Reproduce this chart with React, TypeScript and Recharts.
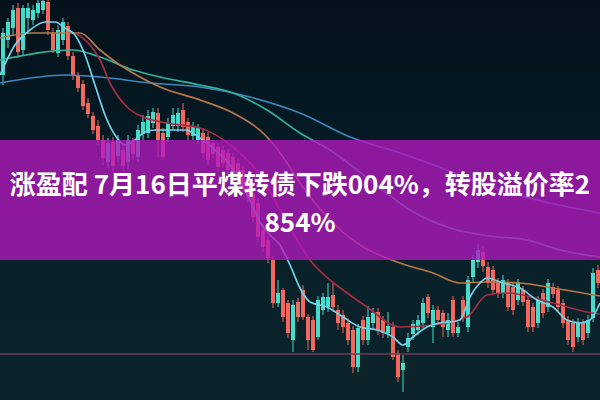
import React from "react";
import { ComposedChart, Bar, Line, XAxis, YAxis, ReferenceLine } from "recharts";

// candle values (arbitrary price units)
const opens = [
  325, 360, 372, 392, 350, 382, 380, 387, 390, 398, 367, 347, 360, 374, 344, 324, 316, 297, 284, 274,
  260, 238, 258, 244, 250, 238, 258, 243, 266, 267, 277, 287, 267, 263, 274, 274, 290, 278, 264, 260,
  267, 263, 257, 253, 250, 247, 243, 237, 230, 220, 207, 197, 170, 160, 140, 97, 110, 97, 60, 98,
  110, 83, 80, 63, 90, 93, 105, 90, 85, 77, 70, 33, 80, 60, 77, 88, 80, 67, 73, 47,
  30, 53, 66, 70, 77, 103, 73, 90, 87, 70, 100, 67, 100, 73, 123, 138, 148, 133, 130, 117,
  107, 117, 113, 100, 110, 100, 93, 77, 107, 93, 113, 110, 97, 80, 77, 63, 77, 67, 82, 130,
];
const closes = [
  367, 378, 390, 348, 392, 392, 390, 397, 399, 370, 350, 370, 378, 344, 324, 312, 294, 286, 270, 260,
  242, 257, 234, 260, 234, 260, 246, 270, 278, 284, 288, 260, 243, 277, 285, 287, 273, 265, 274, 272,
  247, 240, 246, 233, 237, 230, 223, 220, 213, 203, 183, 163, 153, 142, 97, 107, 83, 67, 95, 83,
  83, 60, 50, 100, 103, 103, 93, 77, 73, 60, 33, 72, 60, 83, 87, 70, 67, 74, 43, 23,
  37, 62, 76, 80, 97, 87, 90, 80, 73, 80, 67, 73, 83, 120, 140, 150, 134, 117, 110, 107,
  120, 93, 90, 117, 98, 73, 73, 100, 87, 117, 106, 93, 77, 60, 53, 77, 60, 80, 127, 117,
];
const highs = [
  372, 382, 395, 397, 395, 397, 395, 400, 400, 400, 372, 375, 382, 378, 348, 328, 320, 302, 288, 280,
  265, 262, 263, 265, 255, 265, 262, 275, 285, 290, 292, 292, 272, 282, 292, 292, 297, 282, 278, 276,
  272, 268, 260, 257, 254, 251, 247, 242, 234, 224, 212, 202, 175, 164, 144, 120, 112, 100, 100, 102,
  115, 86, 84, 104, 107, 117, 117, 95, 90, 82, 74, 76, 84, 94, 92, 92, 84, 88, 78, 50,
  45, 67, 80, 85, 102, 106, 95, 94, 90, 87, 104, 78, 104, 124, 145, 156, 154, 138, 134, 122,
  125, 121, 117, 121, 114, 104, 97, 104, 111, 121, 117, 114, 101, 84, 81, 82, 81, 85, 132, 135,
];
const lows = [
  315, 352, 365, 342, 345, 367, 375, 382, 386, 365, 347, 343, 355, 340, 320, 308, 290, 282, 266, 255,
  235, 232, 228, 238, 228, 230, 240, 238, 260, 262, 272, 243, 240, 258, 270, 268, 268, 260, 260, 256,
  242, 235, 242, 228, 232, 225, 218, 215, 208, 198, 178, 158, 148, 137, 92, 93, 78, 62, 48, 78,
  80, 50, 48, 60, 85, 88, 88, 70, 67, 55, 27, 28, 55, 55, 72, 65, 62, 62, 40, 18,
  8, 48, 60, 65, 72, 82, 57, 75, 63, 63, 63, 63, 78, 68, 118, 132, 128, 112, 105, 102,
  102, 89, 85, 95, 94, 68, 68, 72, 82, 88, 102, 88, 72, 55, 48, 58, 55, 62, 78, 112,
];

// moving averages as [time, value]; candle i sits at time i + 0.5
const ma5 = [
  [0, 325], [3, 355], [6, 370], [9, 378], [11, 378], [13, 372], [15, 365], [17, 345], [19, 315], [21, 285],
  [23, 265], [25, 255], [27, 260], [29, 268], [31, 270], [34, 270], [37, 270], [40, 262], [43, 250], [46, 235],
  [50, 200], [52, 178], [54, 165], [56, 155], [58, 135], [60, 112], [62, 98], [65.4, 93], [68.6, 83], [72, 73],
  [75.4, 70], [78.6, 63], [80.6, 55], [82.6, 63], [85.4, 73], [88, 77], [90, 78], [92, 80], [94, 103], [96, 117],
  [97.4, 122], [100.6, 117], [104, 112], [107.4, 100], [110.6, 93], [113.4, 80], [116, 77], [118, 80], [120, 97],
];
const ma10 = [
  [15, 367], [18, 355], [20, 340], [22, 317], [25.4, 293], [28.6, 283], [33.4, 277], [40, 272], [46.6, 253],
  [52, 225], [56, 190], [59.4, 160], [62, 140], [66, 120], [68.6, 110], [73.4, 93], [80, 73], [86.6, 75],
  [93.4, 83], [97.4, 105], [101.4, 107], [110.6, 97], [117.4, 88], [120, 86],
];
const ma20 = [
  [0, 362], [6.6, 367], [16, 367], [20, 350], [23.4, 337], [26.6, 327], [32, 313], [40, 300], [46.6, 287],
  [53.4, 263], [56.6, 243], [60, 217], [66, 180], [72, 155], [80, 137], [86.6, 127], [92, 117], [97.4, 118],
  [104, 117], [110.6, 112], [120, 104],
];
const ma30 = [
  [0, 340], [14.6, 350], [20, 343], [26.6, 330], [32, 323], [40, 315], [46.6, 307], [53.4, 290], [60, 267],
  [66, 250], [74, 220], [82, 190], [90, 172], [98, 164], [105.4, 160], [112, 150], [120, 143],
];
const ma60 = [
  [0, 317], [13.4, 325], [20, 323], [30, 317], [40, 313], [50, 303], [60, 287], [70, 263], [80, 247],
  [84, 240], [92, 225], [100, 210], [110, 197], [120, 187],
];
const supportLevel = 46;

const title1 = "涨盈配 7月16日平煤转债下跌004%，转股溢价率2";
const title2 = "854%";

const candles = opens.map((o, i) => ({
  i,
  open: o,
  close: closes[i],
  high: highs[i],
  low: lows[i],
  range: [lows[i], highs[i]],
}));

const toPoints = (arr: number[][]) => arr.map(([t, v]) => ({ t, v }));

const maLines = [
  { key: "ma60", data: toPoints(ma60), color: "#3f86bd" },
  { key: "ma30", data: toPoints(ma30), color: "#33b39c" },
  { key: "ma20", data: toPoints(ma20), color: "#b9784a" },
  { key: "ma10", data: toPoints(ma10), color: "#a52c44" },
  { key: "ma5", data: toPoints(ma5), color: "#72d3ea" },
];

const Candle = (props: any) => {
  const { x, y, width, height, payload } = props;
  if (!payload || x == null || y == null) return null;
  const { open, close, high, low } = payload;
  const top = Math.min(y, y + height);
  const h = Math.abs(height);
  const k = h / (high - low || 1);
  const bTop = top + (high - Math.max(open, close)) * k;
  const bBot = top + (high - Math.min(open, close)) * k;
  const color = close >= open ? "#45dcc9" : "#f4675c";
  const cx = x + width / 2;
  return (
    <g>
      <line x1={cx} x2={cx} y1={top} y2={top + h} stroke={color} strokeWidth={1} />
      <rect x={x} y={bTop} width={width} height={Math.max(1.5, bBot - bTop)} fill={color} />
    </g>
  );
};

export default function App() {
  return (
    <div
      style={{
        position: "absolute",
        left: 0,
        top: 0,
        width: 600,
        height: 400,
        overflow: "hidden",
        background: "linear-gradient(180deg, #03111a 0%, #082029 55%, #0c2329 100%)",
      }}
    >
      <ComposedChart width={600} height={400} data={candles} margin={{ top: 0, right: 0, bottom: 0, left: 0 }}>
        <XAxis xAxisId="c" dataKey="i" type="category" hide />
        <XAxis xAxisId="t" dataKey="t" type="number" domain={[0, 120]} allowDataOverflow hide />
        <YAxis domain={[0, 400]} allowDataOverflow hide />
        <ReferenceLine xAxisId="t" y={supportLevel} stroke="#6e3a57" strokeWidth={1.5} />
        <Bar xAxisId="c" dataKey="range" barSize={4} shape={<Candle />} isAnimationActive={false} />
        {maLines.map((l) => (
          <Line
            key={l.key}
            xAxisId="t"
            data={l.data}
            dataKey="v"
            type="monotone"
            stroke={l.color}
            strokeWidth={1.7}
            dot={false}
            activeDot={false}
            legendType="none"
            isAnimationActive={false}
          />
        ))}
      </ComposedChart>
      <div
        style={{
          position: "absolute",
          left: 0,
          top: 140,
          width: 600,
          height: 120,
          background: "rgba(178, 24, 190, 0.78)",
          color: "#ffffff",
          fontFamily: '"Noto Sans CJK SC", "Noto Sans", sans-serif',
          fontWeight: 700,
          fontSize: 26,
          lineHeight: "38px",
          textAlign: "center",
          paddingTop: 24,
          boxSizing: "border-box",
          whiteSpace: "nowrap",
        }}
      >
        <div>{title1}</div>
        <div>{title2}</div>
      </div>
    </div>
  );
}
